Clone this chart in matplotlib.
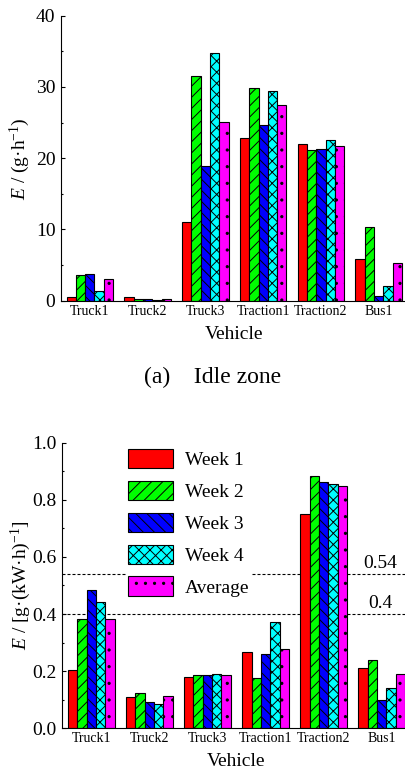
import numpy as np
import matplotlib
matplotlib.use("Agg")
import matplotlib.pyplot as plt
import matplotlib.hatch as mhatch
from matplotlib.path import Path
from matplotlib.ticker import MultipleLocator, FormatStrFormatter

plt.rcParams['font.family'] = ['Liberation Serif', 'DejaVu Serif']
plt.rcParams['mathtext.fontset'] = 'custom'
plt.rcParams['mathtext.rm'] = 'Liberation Serif'
plt.rcParams['mathtext.it'] = 'Liberation Serif:italic'
plt.rcParams['hatch.linewidth'] = 0.7
plt.rcParams['axes.unicode_minus'] = False


class DotGrid(mhatch.SmallFilledCircles):
    # '.' hatch: small dots on a plain grid, narrow columns so every bar gets a row of dots
    radius = 0.011

    def __init__(self, hatch, density):
        n = hatch.count('.')
        self.num_rows = n * density
        self.num_cols = n * 11
        path = Path.unit_circle()
        self.shape_vertices = path.vertices
        self.shape_codes = path.codes
        if n == 0:
            self.num_shapes = 0
        else:
            self.num_shapes = (self.num_rows + 1) * (self.num_cols + 1)
        self.num_vertices = self.num_shapes * len(self.shape_vertices)

    def set_vertices_and_codes(self, vertices, codes):
        shape = self.shape_vertices * self.radius
        vparts, cparts = [], []
        for ry in np.linspace(0, 1, self.num_rows + 1):
            for cx in np.linspace(0, 1, self.num_cols + 1):
                vparts.append(shape + [cx, ry])
                cparts.append(self.shape_codes)
        np.concatenate(vparts, out=vertices)
        np.concatenate(cparts, out=codes)


mhatch._hatch_types = [DotGrid if h is mhatch.SmallFilledCircles else h
                       for h in mhatch._hatch_types]

vehicles = ["Truck1", "Truck2", "Truck3", "Traction1", "Traction2", "Bus1"]
series = ["Week 1", "Week 2", "Week 3", "Week 4", "Average"]

# idle zone, g/h
idle_w1 = [0.55, 0.5, 11.1, 22.8, 21.95, 5.9]
idle_w2 = [3.6, 0.2, 31.5, 29.9, 21.15, 10.3]
idle_w3 = [3.7, 0.25, 18.95, 24.7, 21.35, 0.6]
idle_w4 = [1.3, 0.15, 34.7, 29.45, 22.6, 2.0]
idle_avg = [3.05, 0.3, 25.15, 27.45, 21.75, 5.25]

# g/(kW*h)
work_w1 = [0.204, 0.111, 0.180, 0.266, 0.752, 0.210]
work_w2 = [0.382, 0.124, 0.185, 0.177, 0.884, 0.238]
work_w3 = [0.483, 0.091, 0.188, 0.261, 0.862, 0.098]
work_w4 = [0.442, 0.084, 0.191, 0.373, 0.855, 0.142]
work_avg = [0.382, 0.112, 0.187, 0.279, 0.847, 0.190]

limit_lines = [0.54, 0.4]

colors = ["#ff0000", "#00ff00", "#0000ff", "#00ffff", "#ff00ff"]
hatches = [None, "///", "\\\\\\", "xxx", "."]
bw = 0.161

fig = plt.figure(figsize=(4.06, 7.75), dpi=100)
ax1 = fig.add_axes([0.150, 0.612, 0.854, 0.3677])
ax2 = fig.add_axes([0.1535, 0.0603, 0.858, 0.3685])


def draw_bars(ax, data):
    x = np.arange(len(vehicles))
    for i, vals in enumerate(data):
        ax.bar(x + (i - 2) * bw, vals, bw, color=colors[i], hatch=hatches[i],
               edgecolor="black", linewidth=0.8, label=series[i], zorder=2)
    ax.set_xticks(x)
    ax.set_xticklabels(vehicles, fontsize=10)
    ax.set_xlim(-0.5, len(vehicles) - 0.5)
    for s in ["top", "right"]:
        ax.spines[s].set_visible(False)
    for s in ["left", "bottom"]:
        ax.spines[s].set_linewidth(0.8)
    ax.tick_params(axis="x", length=0, pad=3)
    ax.tick_params(axis="y", which="major", direction="in", length=3, width=0.8,
                   labelsize=14, pad=4)
    ax.tick_params(axis="y", which="minor", direction="in", length=1.5, width=0.8)
    ax.set_xlabel("Vehicle", fontsize=14)


draw_bars(ax1, [idle_w1, idle_w2, idle_w3, idle_w4, idle_avg])
ax1.set_ylim(0, 40)
ax1.yaxis.set_major_locator(MultipleLocator(10))
ax1.yaxis.set_minor_locator(MultipleLocator(5))
ax1.set_ylabel(r"$E$ / (g·h$^{\mathrm{-1}}$)", fontsize=14)
ax1.xaxis.set_label_coords(0.5, -0.089)
ax1.yaxis.set_label_coords(-0.084, 0.5)

draw_bars(ax2, [work_w1, work_w2, work_w3, work_w4, work_avg])
ax2.set_ylim(0, 1.0)
ax2.yaxis.set_major_locator(MultipleLocator(0.2))
ax2.yaxis.set_minor_locator(MultipleLocator(0.1))
ax2.yaxis.set_major_formatter(FormatStrFormatter("%.1f"))
ax2.set_ylabel(r"$E$ / [g·(kW·h)$^{\mathrm{-1}}$]", fontsize=14)
ax2.xaxis.set_label_coords(0.5, -0.085)
ax2.yaxis.set_label_coords(-0.084, 0.5)

for v in limit_lines:
    ax2.axhline(v, color="black", lw=0.8, dashes=(2.7, 1.8), zorder=1)
    ax2.text(4.97, v + 0.02, f"{v:g}", fontsize=14, ha="center", va="baseline")

leg = ax2.legend(loc="upper left", bbox_to_anchor=(0.183, 0.9835), fontsize=14,
                 handlelength=2.32, handleheight=1.13, handletextpad=0.62,
                 labelspacing=0.6, borderpad=0.1, borderaxespad=0,
                 frameon=True, fancybox=False, framealpha=1)
leg.get_frame().set_edgecolor("none")
leg.get_frame().set_facecolor("white")

fig.text(213 / 406, 1 - 377 / 775, "(a)    Idle zone", fontsize=17,
         ha="center", va="center")

fig.savefig("out.png", dpi=100)
